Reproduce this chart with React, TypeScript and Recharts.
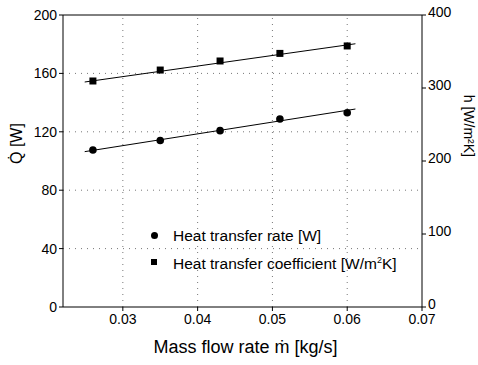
import { ComposedChart, XAxis, YAxis, Scatter, Line, ReferenceLine } from 'recharts'

const flowRates = [0.026, 0.035, 0.043, 0.051, 0.06]
const heatRate = [107.5, 114, 120.8, 128.8, 133]
const heatCoeff = [309.6, 324.6, 337, 347.4, 357.6]

const fitX = [0.0249, 0.0611]
const fitRate = [106.4, 135.6]
const fitCoeff = [308.2, 360.6]

const xTicks = [0.03, 0.04, 0.05, 0.06, 0.07]
const leftTicks = [0, 40, 80, 120, 160, 200]
const rightTicks = [0, 100, 200, 300, 400]
const xGrid = [0.03, 0.04, 0.05, 0.06]
const yGrid = [40, 80, 120, 160]

const font = '"Liberation Sans", Arial, sans-serif'

const rateData = flowRates.map((x, i) => ({ x, y: heatRate[i] }))
const coeffData = flowRates.map((x, i) => ({ x, y: heatCoeff[i] }))
const rateFit = fitX.map((x, i) => ({ x, y: fitRate[i] }))
const coeffFit = fitX.map((x, i) => ({ x, y: fitCoeff[i] }))

// eslint-disable-next-line @typescript-eslint/no-explicit-any
const Square = (props: any) => (
  <rect x={props.cx - 3.5} y={props.cy - 3.5} width={7} height={7} fill="#000" />
)
// eslint-disable-next-line @typescript-eslint/no-explicit-any
const Dot = (props: any) => <circle cx={props.cx} cy={props.cy} r={3.8} fill="#000" />

const tickStyle = { fill: '#000', fontSize: 14, fontFamily: font }

export default function App() {
  return (
    <div style={{ position: 'absolute', left: 0, top: 0, width: 478, height: 365, background: '#fff', fontFamily: font }}>
      <ComposedChart width={478} height={365} margin={{ top: 15, right: 0, bottom: 0, left: 0 }}>
        <XAxis
          dataKey="x"
          type="number"
          domain={[0.022, 0.07]}
          ticks={xTicks}
          allowDataOverflow
          height={58}
          stroke="#000"
          tickSize={4}
          tickMargin={3}
          tick={tickStyle}
          tickFormatter={(v: number) => v.toFixed(2)}
          label={{ value: 'Mass flow rate ṁ [kg/s]', position: 'insideBottom', offset: 12, dx: 3, fill: '#000', fontSize: 18, fontFamily: font }}
        />
        <YAxis
          yAxisId="left"
          dataKey="y"
          type="number"
          domain={[0, 200]}
          ticks={leftTicks}
          width={63}
          stroke="#000"
          tickSize={4}
          tickMargin={2}
          tick={tickStyle}
          label={{ value: 'Q̇ [W]', angle: -90, position: 'insideLeft', offset: 16, dy: 3, fill: '#000', fontSize: 16, fontFamily: font }}
        />
        <YAxis
          yAxisId="right"
          orientation="right"
          dataKey="y"
          type="number"
          domain={[0, 400]}
          ticks={rightTicks}
          width={56}
          stroke="#000"
          tickSize={4}
          tickMargin={2}
          tick={{ ...tickStyle, dy: -3 }}
          label={{ value: 'h [W/m²K]', angle: 90, position: 'insideRight', offset: 9, dy: -4, fill: '#000', fontSize: 14, fontFamily: font }}
        />
        {yGrid.map(v => (
          <ReferenceLine key={'h' + v} yAxisId="left" y={v} stroke="#777" strokeDasharray="1 5" />
        ))}
        {xGrid.map(v => (
          <ReferenceLine key={'v' + v} yAxisId="left" x={v} stroke="#777" strokeDasharray="1 5" />
        ))}
        <ReferenceLine yAxisId="left" y={200} stroke="#000" />
        <Line yAxisId="left" data={rateFit} dataKey="y" type="linear" stroke="#000" strokeWidth={1} dot={false} activeDot={false} isAnimationActive={false} />
        <Line yAxisId="right" data={coeffFit} dataKey="y" type="linear" stroke="#000" strokeWidth={1} dot={false} activeDot={false} isAnimationActive={false} />
        <Scatter yAxisId="left" data={rateData} dataKey="y" shape={<Dot />} isAnimationActive={false} />
        <Scatter yAxisId="right" data={coeffData} dataKey="y" shape={<Square />} isAnimationActive={false} />
      </ComposedChart>
      <div style={{ position: 'absolute', left: 151, top: 223, fontSize: 15.5, lineHeight: '25px', color: '#000' }}>
        <div style={{ display: 'flex', alignItems: 'center' }}>
          <span style={{ width: 7, height: 7, borderRadius: '50%', background: '#000', display: 'inline-block', marginRight: 15 }} />
          Heat transfer rate [W]
        </div>
        <div style={{ display: 'flex', alignItems: 'center' }}>
          <span style={{ width: 6, height: 6, background: '#000', display: 'inline-block', marginRight: 16 }} />
          <span>Heat transfer coefficient [W/m<sup style={{ fontSize: 9 }}>2</sup>K]</span>
        </div>
      </div>
    </div>
  )
}
